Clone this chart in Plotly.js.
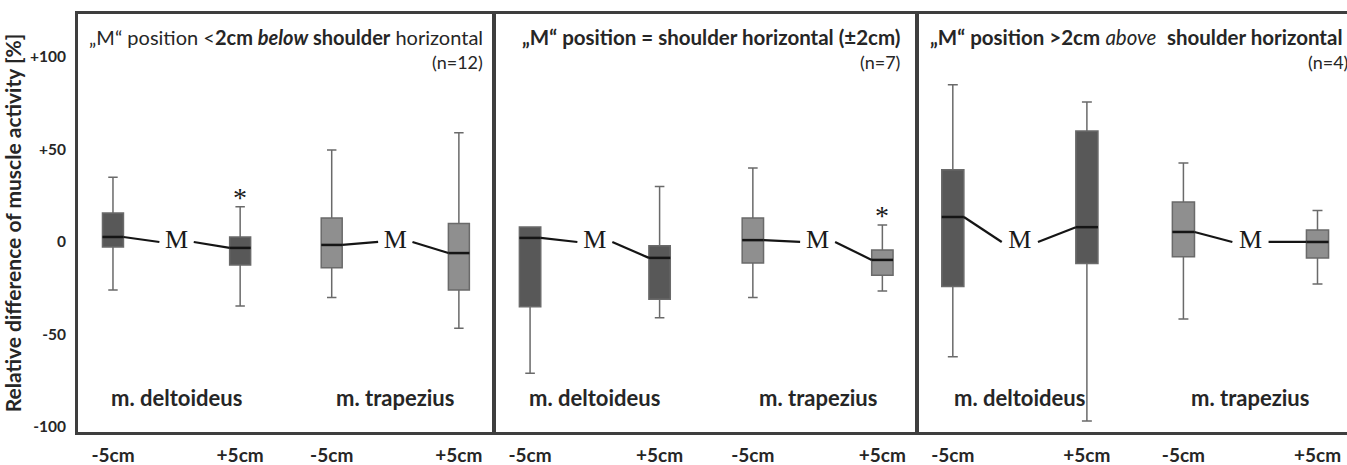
<!DOCTYPE html>
<html><head><meta charset="utf-8">
<script src="https://cdn.plot.ly/plotly-3.0.1.min.js"></script>
<style>html,body{margin:0;padding:0;background:#fff}#chart{width:1347px;height:465px}</style>
</head><body><div id="chart"></div>
<script>
// ---------- data ----------
const panelTitles = [
  '„M“ position &lt;<b>2cm <i>below</i> shoulder</b> horizontal',
  '<b>„M“ position = shoulder horizontal (±2cm)</b>',
  '<b>„M“ position &gt;2cm</b> <i>above</i>  <b>shoulder horizontal</b>'
];
const panelN = ['(n=12)', '(n=7)', '(n=4)'];
const conditions = ['-5cm', '+5cm', '-5cm', '+5cm'];
const muscles = ['m. deltoideus', 'm. trapezius'];
// order in each panel: deltoideus -5cm, deltoideus +5cm, trapezius -5cm, trapezius +5cm
const upperWhisker = [[35, 19, 49.7, 59], [8.1, 30, 40, 9.2], [85, 75.7, 42.7, 17]];
const q3Values     = [[15.7, 2.7, 13, 10], [8.1, -2, 13, -4.3], [39, 60, 21.6, 6.5]];
const medianValues = [[2.7, -3.2, -1.6, -6], [2.2, -8.6, 1, -9.7], [13.5, 8, 5.4, 0]];
const q1Values     = [[-2.7, -12.4, -14, -26], [-35, -31, -11.4, -18], [-24, -11.6, -8, -8.6]];
const lowerWhisker = [[-26, -34.6, -30, -46.6], [-71, -41, -30, -26.5], [-62, -96.7, -41.6, -22.7]];
const significant  = [[false, true, false, false], [false, false, false, true], [false, false, false, false]];
const referenceLabel = 'M';
const referenceValue = 0;
const yTickVals = [100, 50, 0, -50, -100];
const yTickText = ['+100', '+50', '0', '-50', '-100'];
const yTitle = 'Relative difference of muscle activity [%]';

// ---------- layout constants ----------
const slot = [0, 1, 1.72, 2.72];
const BW = 0.165;
const GAP = 0.135;
const xRanges = [[-0.275, 2.98], [-0.263, 2.98], [-0.26, 2.94]];
const xDomains = [[0, 0.3262], [0.3294, 0.6604], [0.6619, 1]];
const muscleFill = ['#585858', '#8f8f8f'];
const sans = 'Lato, "Open Sans", sans-serif';
const serif = '"Liberation Serif", "DejaVu Serif", serif';
const txt = '#262626';

const traces = [];
const annotations = [];
const layout = {
  width: 1347, height: 465,
  margin: {l: 78, r: 0, t: 14, b: 33},
  paper_bgcolor: '#fff', plot_bgcolor: '#fff',
  showlegend: false, boxmode: 'overlay',
  annotations: annotations
};

for (let p = 0; p < 3; p++) {
  const xa = p === 0 ? 'x' : 'x' + (p + 1);
  const ya = p === 0 ? 'y' : 'y' + (p + 1);
  const xdom = p === 0 ? 'x domain' : 'x' + (p + 1) + ' domain';
  const ydom = p === 0 ? 'y domain' : 'y' + (p + 1) + ' domain';

  for (let m = 0; m < 2; m++) {
    const idx = [2 * m, 2 * m + 1];
    traces.push({
      type: 'box', xaxis: xa, yaxis: ya,
      x: idx.map(i => slot[i]),
      q1: idx.map(i => q1Values[p][i]),
      median: idx.map(i => medianValues[p][i]),
      q3: idx.map(i => q3Values[p][i]),
      lowerfence: idx.map(i => lowerWhisker[p][i]),
      upperfence: idx.map(i => upperWhisker[p][i]),
      width: BW, whiskerwidth: 0.45, boxpoints: false,
      fillcolor: muscleFill[m],
      line: {color: '#6a6a6a', width: 1.5},
      hoverinfo: 'skip'
    });
    // median bars
    const mx = [], my = [];
    idx.forEach(i => { mx.push(slot[i] - BW / 2, slot[i] + BW / 2, null); my.push(medianValues[p][i], medianValues[p][i], null); });
    traces.push({type: 'scatter', mode: 'lines', xaxis: xa, yaxis: ya, x: mx, y: my,
      line: {color: '#151515', width: 2.5}, hoverinfo: 'skip'});
    // connecting lines through the reference "M"
    const mid = (slot[idx[0]] + slot[idx[1]]) / 2;
    traces.push({type: 'scatter', mode: 'lines', xaxis: xa, yaxis: ya,
      x: [slot[idx[0]] + BW / 2, mid - GAP, null, mid + GAP, slot[idx[1]] - BW / 2],
      y: [medianValues[p][idx[0]], referenceValue, null, referenceValue, medianValues[p][idx[1]]],
      line: {color: '#151515', width: 2.2}, hoverinfo: 'skip'});
    traces.push({type: 'scatter', mode: 'text', xaxis: xa, yaxis: ya,
      x: [mid], y: [referenceValue], text: [referenceLabel], textposition: 'middle center',
      textfont: {family: serif, size: 26, color: '#1a1a1a'}, hoverinfo: 'skip'});
    // muscle label
    annotations.push({xref: xa, yref: ya, x: mid, y: -84, text: muscles[m], showarrow: false,
      xanchor: 'center', yanchor: 'middle', font: {family: sans, size: 22, color: txt, weight: 700}});
  }
  // significance stars
  for (let i = 0; i < 4; i++) {
    if (significant[p][i]) {
      annotations.push({xref: xa, yref: ya, x: slot[i], y: upperWhisker[p][i] - 4.5, text: '*', showarrow: false,
        xanchor: 'center', yanchor: 'bottom', font: {family: serif, size: 28, color: '#1a1a1a'}});
    }
  }
  // panel titles
  const right = [0.983, 0.967, 0.992][p];
  annotations.push({xref: xdom, yref: ydom, x: right, y: 0.945, text: panelTitles[p], showarrow: false,
    xanchor: 'right', yanchor: 'middle', font: {family: sans, size: p === 0 ? 20 : 20.5, color: txt}});
  annotations.push({xref: xdom, yref: ydom, x: p === 2 ? 1.006 : right, y: 0.885, text: panelN[p], showarrow: false,
    xanchor: 'right', yanchor: 'middle', font: {family: sans, size: 18, color: txt}});

  layout[p === 0 ? 'xaxis' : 'xaxis' + (p + 1)] = {
    domain: xDomains[p], range: xRanges[p], anchor: ya,
    tickmode: 'array', tickvals: slot, ticktext: conditions,
    ticks: 'outside', ticklen: 4, tickcolor: 'rgba(0,0,0,0)',
    tickfont: {family: sans, size: 19, color: txt, weight: 700},
    showline: true, mirror: true, linecolor: '#3e3e3e', linewidth: 3,
    showgrid: false, zeroline: false, fixedrange: true
  };
  layout[p === 0 ? 'yaxis' : 'yaxis' + (p + 1)] = {
    domain: [0, 1], range: [-102.7, 123.2], anchor: xa,
    tickmode: 'array', tickvals: yTickVals, ticktext: yTickText,
    showticklabels: p === 0, ticks: '',
    ticklabelstandoff: 6,
    tickfont: {family: sans, size: 15.5, color: txt, weight: 700},
    showline: true, mirror: p < 2, linecolor: '#3e3e3e', linewidth: 3,
    showgrid: false, zeroline: false, fixedrange: true,
    title: p === 0 ? {text: yTitle, standoff: 6, font: {family: sans, size: 21, color: txt, weight: 700}} : {text: ''}
  };
}

Plotly.newPlot('chart', traces, layout, {staticPlot: true, displayModeBar: false});
</script>
</body></html>
